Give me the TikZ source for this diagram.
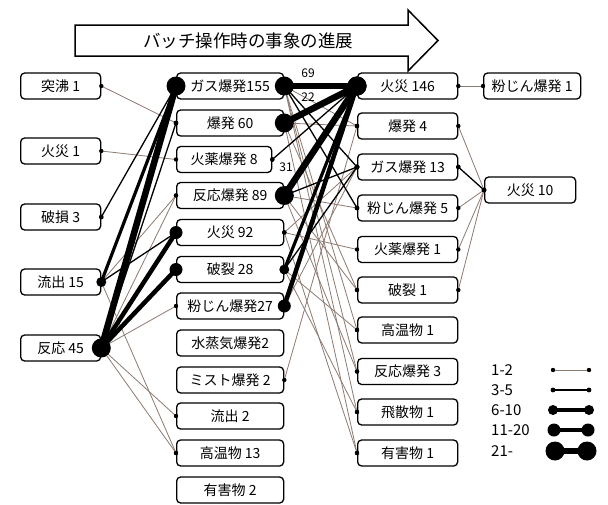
\documentclass[tikz,border=0pt]{standalone}
\usepackage{fontspec}
\setmainfont{Noto Sans CJK JP}
\definecolor{thinc}{RGB}{140,122,112}
\tikzset{
  box/.style={draw, line width=1.3pt, rounded corners=4pt, fill=white,
    minimum height=26pt, inner sep=0pt, anchor=west,
    font=\fontsize{14}{15}\selectfont},
  lab/.style={font=\fontsize{12}{13}\selectfont, inner sep=0pt},
  leg/.style={font=\fontsize{15}{16}\selectfont, inner sep=0pt, anchor=west},
}
\newcommand\lnkgen[5]{\draw[line width=#3, draw=#4] (#1) -- (#2); \fill[black] (#1) circle (#5) (#2) circle (#5);}
\newcommand\lkA[2]{\lnkgen{#1}{#2}{0.8pt}{thinc}{2.2pt}}
\newcommand\lkB[2]{\lnkgen{#1}{#2}{1.3pt}{black}{2.4pt}}
\newcommand\lkC[2]{\lnkgen{#1}{#2}{3.2pt}{black}{5pt}}
\newcommand\lkD[2]{\lnkgen{#1}{#2}{4.5pt}{black}{6.5pt}}
\newcommand\lkE[2]{\lnkgen{#1}{#2}{6.5pt}{black}{9.5pt}}
\begin{document}
\begin{tikzpicture}[x=1pt, y=-1pt]
\useasboundingbox (0,0) rectangle (608,504);
% title arrow
\draw[line width=1.5pt, fill=white, line join=miter] (75,25) -- (408,25) -- (408,10) -- (438,40.5) -- (408,71) -- (408,56) -- (75,56) -- cycle;
\node[font=\fontsize{17.5}{18}\selectfont] (title) at (248,40.5) {バッチ操作時の事象の進展};
% column 1
\node[box, minimum width=80pt] (a1) at (20,86) {突沸 1};
\node[box, minimum width=80pt] (a2) at (20,151) {火災 1};
\node[box, minimum width=80pt] (a3) at (20,217) {破損 3};
\node[box, minimum width=80pt] (a4) at (20,282) {流出 15};
\node[box, minimum width=80pt] (a5) at (20,348) {反応 45};
% column 2
\node[box, minimum width=107pt] (b1) at (176,86) {ガス爆発155};
\node[box, minimum width=107pt] (b2) at (176,123) {爆発 60};
\node[box, minimum width=95pt] (b3) at (176,159.5) {火薬爆発 8};
\node[box, minimum width=107pt] (b4) at (176,195.5) {反応爆発 89};
\node[box, minimum width=107pt] (b5) at (176,232.5) {火災 92};
\node[box, minimum width=107pt] (b6) at (176,269.5) {破裂 28};
\node[box, minimum width=107pt] (b7) at (176,306) {粉じん爆発27};
\node[box, minimum width=107pt] (b8) at (176,343) {水蒸気爆発2};
\node[box, minimum width=107pt] (b9) at (176,380) {ミスト爆発 2};
\node[box, minimum width=107pt] (b10) at (176,416) {流出 2};
\node[box, minimum width=107pt] (b11) at (176,453) {高温物 13};
\node[box, minimum width=107pt] (b12) at (176,490) {有害物 2};
% column 3
\node[box, minimum width=100pt] (c1) at (357,86) {火災 146};
\node[box, minimum width=100pt] (c2) at (357,126) {爆発 4};
\node[box, minimum width=100pt] (c3) at (357,167) {ガス爆発 13};
\node[box, minimum width=100pt] (c4) at (357,208) {粉じん爆発 5};
\node[box, minimum width=100pt] (c5) at (357,249.5) {火薬爆発 1};
\node[box, minimum width=100pt] (c6) at (357,290) {破裂 1};
\node[box, minimum width=100pt] (c7) at (357,330) {高温物 1};
\node[box, minimum width=100pt] (c8) at (357,371.5) {反応爆発 3};
\node[box, minimum width=100pt] (c9) at (357,412) {飛散物 1};
\node[box, minimum width=100pt] (c10) at (357,453) {有害物 1};
% column 4
\node[box, minimum width=97pt] (d1) at (483,86) {粉じん爆発 1};
\node[box, minimum width=91pt] (d2) at (484,190) {火災 10};
% 1-2 links
\lkA{a1.east}{b2.west}
\lkA{a2.east}{b3.west}
\lkA{a4.east}{b4.west}
\lkA{a4.east}{b11.west}
\lkA{a5.east}{b4.west}
\lkA{a5.east}{b7.west}
\lkA{a5.east}{b10.west}
\lkA{a5.east}{b11.west}
\lkA{b1.east}{c2.west}
\lkA{b1.east}{c7.west}
\lkA{b1.east}{c8.west}
\lkA{b1.east}{c9.west}
\lkA{b2.east}{c2.west}
\lkA{b2.east}{c6.west}
\lkA{b2.east}{c10.west}
\lkA{b4.east}{c4.west}
\lkA{b4.east}{c6.west}
\lkA{b4.east}{c8.west}
\lkA{b5.east}{c3.west}
\lkA{b5.east}{c5.west}
\lkA{b5.east}{c10.west}
\lkA{b6.east}{c7.west}
\lkA{b6.east}{c9.west}
\lkA{b7.east}{c3.west}
\lkA{b9.east}{c2.west}
\lkA{c1.east}{d1.west}
\lkA{c2.east}{d2.west}
\lkA{c4.east}{d2.west}
\lkA{c5.east}{d2.west}
\lkA{c6.east}{d2.west}
% 3-5 links
\lkB{a3.east}{b1.west}
\lkB{a4.east}{b5.west}
\lkB{a5.east}{b2.west}
\lkB{b1.east}{c3.west}
\lkB{b1.east}{c4.west}
\lkB{b3.east}{c1.west}
\lkB{b4.east}{c3.west}
\lkB{b6.east}{c3.west}
\lkB{c3.east}{d2.west}
% 6-10 links
\lkC{a4.east}{b1.west}
\lkC{b6.east}{c1.west}
% 11-20 links
\lkD{a5.east}{b5.west}
\lkD{a5.east}{b6.west}
\lkD{b7.east}{c1.west}
% 21- links
\lkE{a5.east}{b1.west}
\lkE{b1.east}{c1.west}
\lkE{b2.east}{c1.west}
\lkE{b4.east}{c1.west}
% counts
\node[lab] (n69) at (308,73) {69};
\node[lab] (n22) at (308,97) {22};
\node[lab] (n31) at (286,167) {31};
% legend
\node[leg] (g1) at (491,370) {1-2};
\node[leg] (g2) at (491,390) {3-5};
\node[leg] (g3) at (491,410) {6-10};
\node[leg] (g4) at (491,430) {11-20};
\node[leg] (g5) at (491,451) {21-};
\coordinate (g1a) at (553,370); \coordinate (g1b) at (589,370);
\coordinate (g2a) at (553,390); \coordinate (g2b) at (589,390);
\coordinate (g3a) at (553,410); \coordinate (g3b) at (589,410);
\coordinate (g4a) at (554,430); \coordinate (g4b) at (588,430);
\coordinate (g5a) at (555,451); \coordinate (g5b) at (587,451);
\lkA{g1a}{g1b}
\lkB{g2a}{g2b}
\lkC{g3a}{g3b}
\lkD{g4a}{g4b}
\lkE{g5a}{g5b}
\end{tikzpicture}
\end{document}
